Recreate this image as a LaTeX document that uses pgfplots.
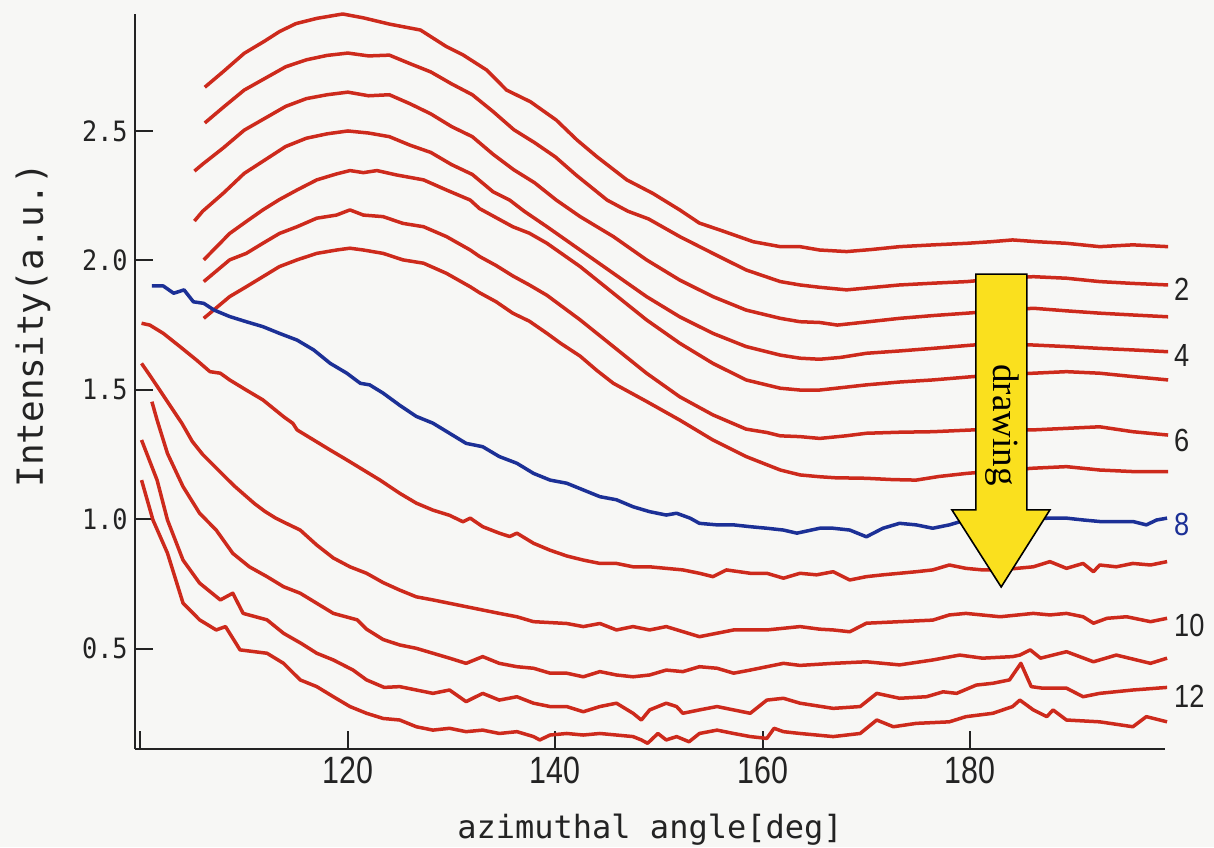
\documentclass[border=0pt]{standalone}
\usepackage{fontspec}
\setmainfont{Liberation Sans}
\newfontfamily\monofont{DejaVu Sans Mono}
\newfontfamily\tickmono[FakeStretch=0.9]{DejaVu Sans Mono}
\newfontfamily\condfont[FakeStretch=0.8]{Liberation Sans}
\newfontfamily\numfont[FakeStretch=0.85]{Liberation Sans}
\newfontfamily\seriffont{Liberation Serif}
\usepackage{pgfplots}
\pgfplotsset{compat=1.18}
\definecolor{curvered}{RGB}{205,42,28}
\definecolor{curveblue}{RGB}{28,48,150}
\definecolor{arrowyellow}{RGB}{250,224,30}
\definecolor{paper}{RGB}{247,247,245}
\definecolor{axisgray}{RGB}{35,35,35}

\begin{document}
\begin{tikzpicture}
\fill[paper] (-67.5pt,-49pt) rectangle (539.5pt,374.5pt);
\begin{axis}[
  at={(0,0)}, anchor=south west,
  scale only axis,
  width=515pt, height=367.5pt,
  xmin=99.47, xmax=198.8,
  ymin=0.112, ymax=2.952,
  axis lines=left,
  axis line style={-, line width=1pt, axisgray},
  tick style={line width=1pt, axisgray},
  tick align=inside,
  major tick length=9pt,
  xtick={100,120,140,160,180},
  xticklabels={,120,140,160,180},
  ytick={0.5,1.0,1.5,2.0,2.5},
  yticklabels={0.5,1.0,1.5,2.0,2.5},
  xticklabel style={font=\fontsize{19}{20}\condfont, inner sep=0pt, yshift=-4pt, text=axisgray},
  yticklabel style={font=\fontsize{14}{16}\tickmono, inner sep=0pt, xshift=-3.5pt, text=axisgray},
  clip=false,
  every axis plot/.append style={no markers, line width=1.75pt, line join=round},
]
% upper group (1-7)
\addplot[curvered] coordinates {
(106.2,2.669)(108,2.730)(110,2.800)(112,2.848)(113.4,2.884)(115,2.915)(117,2.935)(119.5,2.952)(121.5,2.937)(124,2.913)(127,2.890)(129.5,2.826)(131.1,2.794)(133.4,2.735)(135.3,2.658)(137.6,2.613)(140.1,2.542)(142.1,2.465)(144,2.401)(146.9,2.311)(149.4,2.259)(152,2.195)(153.9,2.144)(155.9,2.117)(159.1,2.072)(161.7,2.053)(163.6,2.053)(165.5,2.040)(168.1,2.034)(170.5,2.042)(173.2,2.053)(176.5,2.060)(179.7,2.066)(182,2.072)(184.1,2.079)(186.5,2.072)(189.3,2.066)(192.5,2.053)(195.7,2.060)(199.1,2.053)};
\addplot[curvered] coordinates {
(106.2,2.531)(108,2.592)(110,2.658)(112,2.703)(114,2.748)(116,2.775)(118,2.792)(120,2.801)(122,2.790)(124,2.793)(126,2.760)(128,2.728)(130,2.682)(132,2.640)(134,2.575)(136,2.505)(138,2.455)(140,2.400)(142,2.330)(145,2.233)(147,2.190)(149,2.160)(152,2.092)(155.2,2.027)(158.4,1.963)(161.7,1.918)(163.6,1.905)(165.5,1.896)(168.1,1.886)(170.5,1.895)(173.2,1.905)(176.5,1.912)(179.7,1.918)(183,1.930)(186.1,1.937)(189.3,1.931)(192.5,1.918)(195.7,1.911)(199.1,1.905)};
\addplot[curvered] coordinates {
(105.2,2.345)(106,2.372)(108,2.435)(110,2.503)(112,2.549)(114,2.595)(116,2.625)(118,2.640)(120,2.650)(122,2.636)(124,2.640)(126,2.605)(128,2.566)(130,2.517)(132,2.478)(134,2.410)(136,2.350)(138,2.300)(140.1,2.233)(142.4,2.169)(145.6,2.092)(148.8,2.002)(152,1.924)(155.2,1.860)(158.4,1.808)(161.7,1.776)(163.6,1.763)(165.5,1.760)(167.2,1.750)(170,1.762)(173.2,1.776)(176.5,1.787)(179.7,1.796)(183,1.806)(186.1,1.815)(189.3,1.805)(192.5,1.796)(195.7,1.789)(199.1,1.782)};
\addplot[curvered] coordinates {
(105.2,2.152)(106,2.190)(108,2.260)(110,2.336)(112,2.388)(114,2.440)(116,2.472)(118,2.489)(120,2.500)(122,2.492)(124,2.478)(126,2.445)(128,2.417)(130,2.370)(132,2.332)(134,2.265)(135.6,2.233)(137,2.190)(139.2,2.130)(142.4,2.040)(145.6,1.950)(148.8,1.860)(152,1.782)(155.2,1.718)(158.4,1.667)(161.7,1.634)(163.6,1.622)(165.5,1.618)(167.5,1.625)(170,1.641)(173.2,1.650)(176.4,1.660)(180.3,1.673)(183,1.675)(186.1,1.673)(189.3,1.667)(192.5,1.660)(195.7,1.654)(199.1,1.647)};
\addplot[curvered] coordinates {
(106.1,2.002)(108.6,2.104)(110.2,2.150)(111.8,2.195)(113.4,2.235)(115.1,2.272)(117,2.311)(118.9,2.334)(120.2,2.347)(121.5,2.339)(122.8,2.347)(124.7,2.330)(127.3,2.311)(129.5,2.272)(131.8,2.233)(132.7,2.200)(134.3,2.165)(135.9,2.130)(137.5,2.105)(139.2,2.066)(142.4,1.976)(145.6,1.873)(148.8,1.770)(152,1.680)(155.2,1.602)(158.4,1.538)(161.7,1.506)(163.6,1.499)(165.5,1.499)(168,1.510)(170,1.519)(173.2,1.530)(176.4,1.538)(180.3,1.551)(183,1.558)(186.1,1.564)(189.3,1.570)(192.5,1.564)(195.7,1.551)(199.1,1.538)};
\addplot[curvered] coordinates {
(106.1,1.918)(108.6,2.002)(110.2,2.027)(111.8,2.066)(113.4,2.104)(115.1,2.130)(117,2.163)(118.9,2.175)(120.2,2.195)(121.5,2.175)(123.4,2.169)(125.3,2.143)(127.3,2.130)(129.5,2.092)(131.8,2.040)(132.7,2.015)(134.3,1.980)(135.9,1.940)(137.5,1.905)(139.2,1.865)(142.4,1.770)(145.6,1.667)(148.8,1.564)(152,1.473)(155.2,1.403)(158.4,1.348)(160.4,1.335)(161.7,1.322)(163.6,1.319)(165.5,1.312)(168,1.322)(170,1.332)(173.2,1.336)(176.4,1.338)(180.3,1.345)(183,1.343)(186.1,1.345)(189.3,1.351)(192.5,1.357)(195.7,1.338)(199.1,1.325)};
\addplot[curvered] coordinates {
(106.1,1.776)(108.6,1.860)(110.2,1.898)(111.8,1.937)(113.4,1.976)(115.1,2.002)(117,2.027)(118.9,2.040)(120.2,2.047)(121.5,2.040)(123.4,2.027)(125.3,2.002)(127.3,1.989)(129.5,1.950)(131.8,1.898)(132.7,1.875)(134.3,1.840)(135.9,1.796)(137.5,1.765)(139.2,1.718)(140.5,1.680)(142.4,1.630)(144,1.575)(145.6,1.525)(148.8,1.455)(152,1.383)(155.2,1.306)(158.4,1.242)(161.7,1.190)(163.6,1.171)(165.5,1.164)(167,1.160)(170,1.158)(172.5,1.153)(174.8,1.151)(177,1.165)(179.7,1.177)(183,1.188)(186.1,1.197)(189.3,1.203)(192.5,1.190)(195.7,1.184)(199.1,1.184)};
% blue (8)
\addplot[curveblue] coordinates {
(101.1,1.901)(102.2,1.901)(103.2,1.873)(104.2,1.886)(105.1,1.840)(106.1,1.834)(107.1,1.808)(108.6,1.783)(110.2,1.763)(111.8,1.744)(113.4,1.718)(115.1,1.692)(116.7,1.654)(118.3,1.602)(119.9,1.564)(121.2,1.525)(122.1,1.519)(123.4,1.487)(125.0,1.440)(126.6,1.397)(128.2,1.371)(129.8,1.332)(131.4,1.293)(133.0,1.280)(134.6,1.242)(136.3,1.216)(137.9,1.177)(139.5,1.151)(141.1,1.139)(142.7,1.113)(144.3,1.087)(145.9,1.075)(147.5,1.048)(149.1,1.029)(150.7,1.016)(151.7,1.023)(153.0,1.004)(153.9,0.984)(155.6,0.978)(157.2,0.978)(158.8,0.971)(160.4,0.965)(162.0,0.958)(163.3,0.946)(165.5,0.965)(166.8,0.965)(168.4,0.958)(170.0,0.932)(171.6,0.965)(173.2,0.984)(174.8,0.978)(176.4,0.965)(178.0,0.978)(179.6,0.997)(182,1.000)(185,1.000)(187.7,1.004)(189.3,1.004)(190.9,0.997)(192.5,0.991)(194.1,0.991)(195.7,0.991)(197.0,0.978)(198.0,0.997)(199.0,1.004)};
% lower group (9-13)
\addplot[curvered] coordinates {
(100.1,1.757)(100.9,1.750)(102.2,1.718)(103.8,1.667)(105.4,1.615)(106.7,1.570)(107.7,1.564)(108.6,1.538)(110.2,1.499)(111.8,1.461)(113.8,1.396)(114.7,1.370)(115.1,1.345)(116.7,1.306)(118.3,1.267)(119.9,1.229)(121.5,1.190)(123.1,1.151)(125,1.100)(126.6,1.062)(128.2,1.035)(129.8,1.015)(131.1,0.990)(131.8,1.004)(133,0.971)(134.6,0.946)(135.6,0.933)(136.3,0.946)(137.9,0.907)(139.5,0.880)(141.1,0.858)(142.7,0.842)(144.3,0.829)(145.9,0.829)(147.5,0.816)(149.1,0.816)(150.7,0.810)(152.3,0.804)(153.9,0.791)(155.2,0.778)(156.5,0.804)(158.8,0.791)(160.4,0.791)(162,0.772)(163.6,0.791)(165.2,0.785)(166.8,0.797)(168.4,0.765)(170,0.778)(171.6,0.785)(173.2,0.791)(174.8,0.797)(176.4,0.804)(178,0.823)(179.6,0.810)(181.2,0.804)(182.9,0.804)(184.5,0.810)(186.1,0.816)(187.7,0.836)(189.3,0.810)(190.9,0.829)(191.9,0.797)(192.5,0.823)(194.1,0.816)(195.7,0.829)(197.4,0.823)(199,0.836)};
\addplot[curvered] coordinates {
(100.1,1.602)(101,1.550)(102,1.490)(103,1.430)(104,1.370)(105,1.300)(106,1.250)(107,1.210)(108,1.170)(109,1.130)(110,1.095)(111,1.060)(112,1.030)(113,1.005)(114,0.985)(115.4,0.958)(117,0.900)(118.6,0.850)(120.2,0.816)(121.8,0.791)(123.4,0.755)(125,0.726)(126.6,0.700)(128.2,0.688)(131.4,0.662)(134.6,0.636)(136.3,0.623)(137.9,0.604)(141.1,0.597)(142.7,0.585)(144.3,0.597)(145.9,0.572)(147.5,0.585)(149.1,0.572)(150.7,0.585)(153.9,0.546)(157.2,0.572)(160.4,0.572)(163.6,0.585)(165.5,0.575)(166.8,0.572)(168.4,0.565)(170,0.598)(173.2,0.604)(176.4,0.610)(178,0.630)(179.6,0.636)(182.9,0.623)(186.1,0.636)(187.7,0.630)(189.3,0.636)(190.9,0.623)(191.9,0.598)(193.2,0.617)(195.1,0.623)(197.4,0.604)(199,0.617)};
\addplot[curvered] coordinates {
(101.1,1.454)(101.6,1.383)(102.6,1.254)(104.1,1.126)(105.7,1.023)(107.3,0.958)(108.9,0.868)(110.5,0.816)(112.2,0.778)(113.8,0.739)(115.4,0.714)(117,0.675)(118.6,0.636)(120.9,0.611)(121.8,0.575)(123.4,0.535)(125,0.514)(126.6,0.501)(128.2,0.482)(129.8,0.463)(131.4,0.443)(133,0.469)(134.6,0.443)(136.3,0.430)(137.9,0.424)(139.5,0.405)(141.1,0.405)(142.7,0.391)(144.3,0.411)(145.9,0.398)(147.5,0.391)(149.1,0.398)(150.7,0.417)(152.3,0.411)(153.9,0.430)(155.6,0.424)(157.2,0.405)(158.8,0.417)(160.4,0.430)(162,0.443)(163.6,0.435)(166.8,0.443)(170,0.449)(173.2,0.437)(176.4,0.456)(179,0.475)(181.2,0.463)(184.1,0.469)(184.8,0.475)(185.8,0.495)(186.8,0.463)(189.3,0.488)(191.9,0.449)(194.1,0.475)(197.4,0.443)(199,0.463)};
\addplot[curvered] coordinates {
(100.1,1.306)(101.6,1.151)(102.6,0.997)(104.1,0.842)(105.7,0.753)(107.7,0.688)(108.9,0.714)(109.9,0.636)(112.2,0.611)(113.8,0.559)(115.5,0.520)(117,0.482)(118.6,0.456)(120.5,0.417)(121.8,0.379)(123.5,0.350)(125,0.353)(126.6,0.340)(128.2,0.327)(129.8,0.340)(131.4,0.295)(133,0.327)(134.6,0.301)(136.3,0.314)(137.9,0.289)(139.5,0.276)(141.1,0.276)(142.7,0.256)(144.3,0.276)(145.9,0.289)(147.5,0.250)(148.3,0.224)(149.1,0.263)(150.7,0.289)(151.7,0.276)(152.3,0.250)(153.9,0.263)(155.6,0.276)(157.2,0.263)(158.8,0.250)(160.4,0.301)(162,0.308)(163.6,0.289)(166.8,0.269)(169.4,0.276)(171,0.327)(173.2,0.308)(175.8,0.314)(177.4,0.333)(178.7,0.327)(180.6,0.359)(182.2,0.366)(183.8,0.379)(184.9,0.443)(185.9,0.353)(187,0.347)(189.3,0.347)(190.9,0.314)(192.5,0.327)(195.7,0.340)(199,0.350)};
\addplot[curvered] coordinates {
(100.1,1.151)(101.2,0.997)(102.6,0.869)(104.1,0.676)(105.7,0.611)(107.3,0.572)(108.2,0.585)(109.6,0.495)(112.2,0.482)(113.8,0.443)(115.4,0.379)(117,0.353)(118.6,0.314)(120.2,0.276)(121.8,0.250)(123.4,0.230)(125,0.224)(126.6,0.198)(128.2,0.185)(129.8,0.192)(131.4,0.179)(133,0.185)(134.6,0.172)(136.3,0.179)(137.9,0.160)(138.5,0.147)(139.5,0.166)(141.1,0.172)(142.7,0.166)(144.3,0.172)(145.9,0.166)(147.5,0.160)(148.3,0.147)(148.9,0.134)(149.9,0.172)(150.7,0.147)(151.7,0.160)(152.9,0.140)(153.9,0.172)(155.6,0.185)(157.2,0.172)(158.8,0.160)(160.4,0.153)(161.1,0.192)(162,0.179)(163.6,0.172)(166.8,0.160)(169.4,0.172)(171,0.224)(172.6,0.198)(174.8,0.211)(178,0.217)(179.6,0.237)(182.2,0.250)(184.1,0.276)(184.8,0.301)(186.1,0.263)(187.4,0.237)(188,0.263)(189.3,0.224)(192.5,0.217)(195.7,0.198)(197,0.237)(199,0.217)};
% arrow
\draw[fill=arrowyellow, draw=black, line width=0.8pt, line join=miter]
  (axis cs:180.56,1.947) -- (axis cs:185.48,1.947) -- (axis cs:185.48,1.036)
  -- (axis cs:187.7,1.036) -- (axis cs:183.0,0.738) -- (axis cs:178.25,1.036)
  -- (axis cs:180.56,1.036) -- cycle;
\node[rotate=-90, font=\fontsize{18.5}{20}\seriffont, inner sep=0pt] at (axis cs:183.07,1.364) {drawing};
% curve numbers
\node[anchor=west, inner sep=0pt, font=\fontsize{16}{18}\numfont, text=axisgray] at (axis cs:199.65,1.890) {2};
\node[anchor=west, inner sep=0pt, font=\fontsize{16}{18}\numfont, text=axisgray] at (axis cs:199.65,1.634) {4};
\node[anchor=west, inner sep=0pt, font=\fontsize{16}{18}\numfont, text=axisgray] at (axis cs:199.65,1.306) {6};
\node[anchor=west, inner sep=0pt, font=\fontsize{16}{18}\numfont, text=curveblue] at (axis cs:199.65,0.978) {8};
\node[anchor=west, inner sep=0pt, font=\fontsize{16}{18}\numfont, text=axisgray] at (axis cs:199.65,0.591) {10};
\node[anchor=west, inner sep=0pt, font=\fontsize{16}{18}\numfont, text=axisgray] at (axis cs:199.65,0.317) {12};
\end{axis}
% axis labels (axis box south west is at the origin)
\node[anchor=base, inner sep=0pt, font=\fontsize{16}{18}\monofont, text=axisgray] at (257.5pt,-44.5pt) {azimuthal angle[deg]};
\node[anchor=base, rotate=90, inner sep=0pt, font=\fontsize{18}{20}\monofont, text=axisgray] at (-46pt,212pt) {Intensity(a.u.)};
\pgfresetboundingbox
\useasboundingbox (-67.5pt,-49pt) rectangle (539.5pt,374.5pt);
\end{tikzpicture}
\end{document}
